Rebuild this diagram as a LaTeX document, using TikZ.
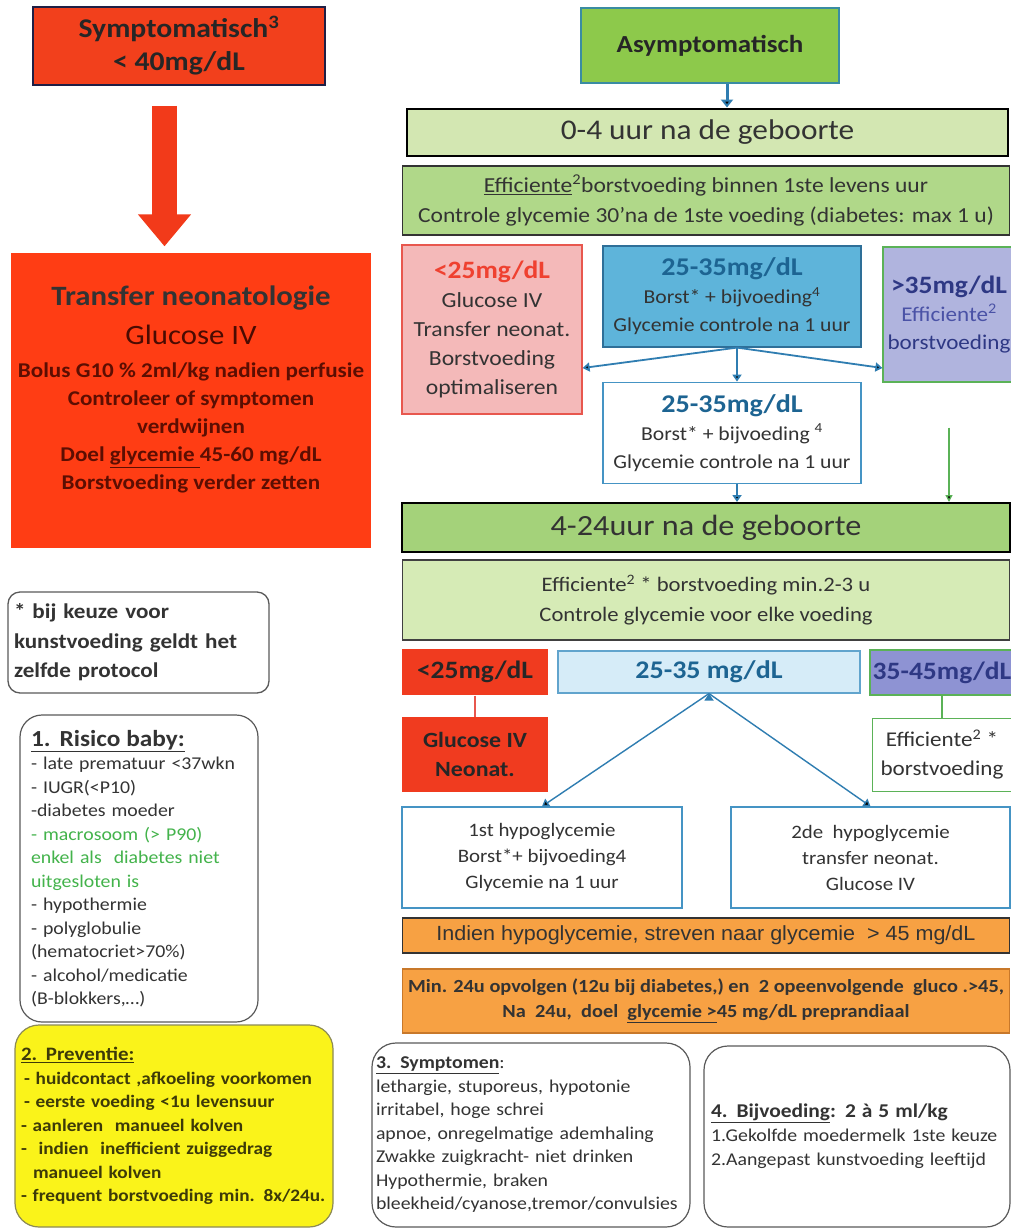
\documentclass[tikz,border=0pt]{standalone}
\usepackage{fontspec}
\setmainfont{Carlito}[FakeStretch=1.1]
\newfontfamily\arialfont{Liberation Sans}[FakeStretch=1.05]
\usetikzlibrary{positioning,arrows.meta}
\newcommand\fsz[2]{\fontsize{#1}{#2}\selectfont}
\definecolor{symred}{HTML}{F2401C}
\definecolor{navyline}{HTML}{1F1F45}
\definecolor{bigred}{HTML}{FF3D14}
\definecolor{arrowred}{HTML}{F23A1A}
\definecolor{darkmaroon}{HTML}{5C0E02}
\definecolor{asymgreen}{HTML}{8DC94B}
\definecolor{tealline}{HTML}{3A8CA2}
\definecolor{palegreen}{HTML}{D3E7B2}
\definecolor{midgreen}{HTML}{B0D889}
\definecolor{bargreen}{HTML}{A4D27A}
\definecolor{lightgreen}{HTML}{D6EBB6}
\definecolor{pinkfill}{HTML}{F4B9B9}
\definecolor{pinkline}{HTML}{E8574E}
\definecolor{pinktext}{HTML}{EF4130}
\definecolor{skyfill}{HTML}{5EB4DA}
\definecolor{skyline}{HTML}{2E6F98}
\definecolor{skytext}{HTML}{1D6492}
\definecolor{paleblue}{HTML}{D6ECF8}
\definecolor{boxblue}{HTML}{4594C4}
\definecolor{arrowblue}{HTML}{2F7DB1}
\definecolor{lavfill}{HTML}{B0B4DE}
\definecolor{lavdark}{HTML}{8E93D3}
\definecolor{lavtext}{HTML}{4A52A6}
\definecolor{navytext}{HTML}{2E3884}
\definecolor{greenline}{HTML}{5BB257}
\definecolor{redfill}{HTML}{F03B1F}
\definecolor{orangefill}{HTML}{F7A143}
\definecolor{orangeline}{HTML}{C8782A}
\definecolor{yellowfill}{HTML}{FAF31A}
\definecolor{oliveline}{HTML}{8C8A55}
\definecolor{olivetext}{HTML}{3D3A08}
\definecolor{txtgray}{HTML}{333333}
\definecolor{rimgray}{HTML}{5A5A5A}
\definecolor{riskgreen}{HTML}{43B34B}

\begin{document}
\begin{tikzpicture}[x=1pt,y=-1pt,
  box/.style={draw, line width=1.2pt, inner sep=2pt, align=center, text=txtgray},
  sz/.style 2 args={minimum width=#1pt, minimum height=#2pt},
  note/.style={box, rounded corners=#1, draw=rimgray, align=left},
  blueline/.style={draw=arrowblue, line width=1.8pt, -{Triangle[length=7pt,width=9pt]}},
  greenline/.style={draw=greenline, line width=1.3pt},
  bigarrow/.style={draw=arrowred, line width=25pt, -{Triangle[length=32pt,width=51pt]}}]
\fill[white] (0,0) rectangle (1011,1229);
\useasboundingbox (0,0) rectangle (1011,1229);

\node[box, sz={292}{78}, fill=symred, draw=navyline, line width=1.6pt, font=\fsz{27}{33}\bfseries, text=black!85] (symp) at (179,46) {Symptomatisch\textsuperscript{3}\\< 40mg/dL};
\node[box, draw=none, sz={360}{295}, fill=bigred, font=\fsz{21}{28}\bfseries, text=darkmaroon, text depth=25pt] (transfer) at (191,400.5) {{\fsz{28}{28}\color{black!80}Transfer neonatologie}\\[11pt]{\fsz{28}{28}\mdseries\color{darkmaroon!80!black}Glucose IV}\\[5pt]Bolus G10 \% 2ml/kg nadien perfusie\\Controleer of symptomen\\verdwijnen\\Doel \underline{glycemie }45-60 mg/dL\\Borstvoeding verder zetten};
\node[note=12pt, line width=1.3pt, sz={261}{101}, text width=249pt, inner xsep=6pt, font=\fsz{21}{29.5}\bfseries] (remark) at (138.5,642.5) {* bij keuze voor\\kunstvoeding geldt het\\zelfde protocol};
\node[note=22pt, sz={238}{307}, text width=216pt, inner xsep=11pt, font=\fsz{18}{23.5}] (risico) at (139,868.5) {{\fsz{23}{23.5}\bfseries\underline{1. Risico baby:}}\\- late prematuur <37wkn\\- IUGR(<P10)\\-diabetes moeder\\\textcolor{riskgreen}{- macrosoom (> P90)}\\\textcolor{riskgreen}{enkel als\ \ diabetes niet}\\\textcolor{riskgreen}{uitgesloten is}\\- hypothermie\\- polyglobulie\\(hematocriet>70\%)\\- alcohol/medicatie\\(B-blokkers,…)};
\node[note=24pt, fill=yellowfill, draw=oliveline, sz={318}{202}, text width=306pt, inner xsep=6pt, font=\fsz{17.5}{23.5}\bfseries, text=olivetext] (preventie) at (174,1126) {{\fsz{19}{23.5}\underline{2. Preventie:}}\\\hspace{3pt}- huidcontact ,afkoeling voorkomen\\\hspace{3pt}- eerste voeding <1u levensuur\\- aanleren\ \ manueel kolven\\-\ \ indien\ \ inefficient zuiggedrag\\\hspace{12pt}manueel kolven\\- frequent borstvoeding min. 8x/24u.};

\node[box, fill=asymgreen, draw=tealline, line width=2pt, sz={258}{75}, font=\fsz{24.5}{28}\bfseries, text=black!85] (asym) at (710,45.5) {Asymptomatisch};
\node[box, fill=palegreen, draw=black, line width=2pt, sz={601}{47}, font=\fsz{28.5}{30}, text=black!80] (bar04) at (707.5,132) {0-4 uur na de geboorte};
\node[box, fill=midgreen, draw=black!80, sz={607}{69}, font=\fsz{21.4}{30}, text=black!80] (eff04) at (706,200.5) {\underline{Efficiente}\textsuperscript{2}borstvoeding binnen 1ste levens uur\\Controle glycemie 30’na de 1ste voeding (diabetes: max 1 u)};
\node[box, fill=pinkfill, draw=pinkline, sz={180}{169}, font=\fsz{21.5}{29}] (lt25a) at (492,329.5) {{\fsz{25}{29}\bfseries\color{pinktext}<25mg/dL}\\Glucose IV\\Transfer neonat.\\Borstvoeding\\optimaliseren};
\node[box, fill=skyfill, draw=skyline, sz={258}{101}, font=\fsz{19.7}{28}, text=black!80] (mid25a) at (732,296.5) {{\fsz{25.5}{28}\bfseries\color{skytext}25-35mg/dL}\\Borst* + bijvoeding\textsuperscript{4}\\Glycemie controle na 1 uur};
\node[box, fill=lavfill, draw=greenline, sz={132}{135}, font=\fsz{21}{28}, text=navytext] (gt35) at (949,314.5) {{\fsz{25}{28}\bfseries >35mg/dL}\\{\color{lavtext}Efficiente\textsuperscript{2}}\\borstvoeding};
\node[box, fill=white, draw=boxblue, sz={258}{101}, font=\fsz{19.7}{28}, text=black!80] (mid25b) [below=34pt of mid25a] {{\fsz{25.5}{28}\bfseries\color{skytext}25-35mg/dL}\\Borst* + bijvoeding \textsuperscript{4}\\Glycemie controle na 1 uur};
\node[box, fill=bargreen, draw=black, line width=2pt, sz={608}{49}, font=\fsz{29.3}{30}, text=black!80] (bar424) at (706,527.5) {4-24uur na de geboorte};
\node[box, fill=lightgreen, draw=black!75, sz={607}{80}, font=\fsz{20.6}{30}, text=black!80] (eff424) at (706,600) {Efficiente\textsuperscript{2} * borstvoeding min.2-3 u\\Controle glycemie voor elke voeding};

\node[box, fill=redfill, draw=none, sz={146}{46}, font=\fsz{25}{28}\bfseries, text=black!85] (lt25) at (475,672) {<25mg/dL};
\node[box, fill=redfill, draw=none, sz={146}{75}, font=\fsz{21.7}{29}\bfseries, text=black!85] (glu25) [below=21pt of lt25] {Glucose IV\\Neonat.};
\node[box, fill=paleblue, draw=boxblue!85, sz={302}{42}, font=\fsz{25.4}{28}\bfseries, text=skytext] (mid25) at (709,672) {25-35 mg/dL};
\node[box, fill=lavdark, draw=greenline, sz={144}{45}, font=\fsz{25}{28}\bfseries, text=navytext] (m3545) at (942,672.5) {35-45mg/dL};
\node[box, fill=white, draw=greenline, sz={139}{73}, font=\fsz{21}{29}] (effgr) [below=22pt of m3545] {Efficiente\textsuperscript{2} *\\borstvoeding};
\node[box, fill=white, draw=boxblue, sz={280}{101}, font=\fsz{19}{26}] (hypo1) at (542,857.5) {1st hypoglycemie\\Borst*+ bijvoeding4\\Glycemie na 1 uur};
\node[box, fill=white, draw=boxblue, sz={279}{101}, font=\fsz{19}{26}] (hypo2) at (870.5,857.5) {2de\ \ hypoglycemie\\transfer neonat.\\Glucose IV};
\node[box, fill=orangefill, draw=black!80, line width=1.5pt, sz={607}{35}, font=\arialfont\fsz{20.5}{24}, text=black!80] (streef) at (706,935.5) {Indien hypoglycemie, streven naar glycemie\ \ > 45 mg/dL};
\node[box, fill=orangefill, draw=orangeline, sz={607}{64}, font=\fsz{18.5}{25}\bfseries, text=black!80] (opvolg) at (706,1001) {Min. 24u opvolgen (12u bij diabetes,) en\ \ 2 opeenvolgende\ \ gluco .>45,\\Na\ \ 24u,\ \ doel\ \ \underline{glycemie >}45 mg/dL preprandiaal};
\node[note=24pt, sz={318}{184}, text width=310pt, inner xsep=4pt, font=\fsz{18}{23.5}] (symptomen) at (531,1135) {{\bfseries\underline{3. Symptomen}}:\\lethargie, stuporeus, hypotonie\\irritabel, hoge schrei\\apnoe, onregelmatige ademhaling\\Zwakke zuigkracht- niet drinken\\Hypothermie, braken\\bleekheid/cyanose,tremor/convulsies};
\node[note=24pt, sz={306}{181}, text width=292pt, inner xsep=7pt, font=\fsz{18}{24}] (bijvoeding) at (857,1136.5) {{\fsz{19.5}{24}\bfseries\underline{4. Bijvoeding}: 2 à 5 ml/kg}\\1.Gekolfde moedermelk 1ste keuze\\2.Aangepast kunstvoeding leeftijd};

\coordinate (arrx) at (164.5,0);
\coordinate (asymfoot) at ([xshift=17pt]asym.south);
\coordinate (fork) at ([xshift=5pt]mid25a.south);
\draw[bigarrow, shorten <=20pt, shorten >=6pt] (symp.south -| arrx) -- (transfer.north -| arrx);
\path[blueline]
  (asymfoot) edge[line width=3pt, -{Triangle[length=8pt,width=12pt]}] (asymfoot |- bar04.north)
  (fork) edge ([yshift=-38.5pt]lt25a.east)
  (fork) edge (fork |- mid25b.north)
  (fork) edge ([yshift=-53.5pt]gt35.west)
  (fork |- mid25b.south) edge (fork |- bar424.north)
  (mid25.south) edge[line width=1.4pt] (hypo1.north)
  (mid25.south) edge[line width=1.4pt] (hypo2.north);
\path[greenline]
  ([yshift=-45pt]gt35.south) edge[-{Triangle[length=7pt,width=7pt]}] (gt35.south |- bar424.north)
  (m3545) edge (effgr);
\draw[pinkline, line width=1.3pt] (lt25) -- (glu25);
\end{tikzpicture}
\end{document}
